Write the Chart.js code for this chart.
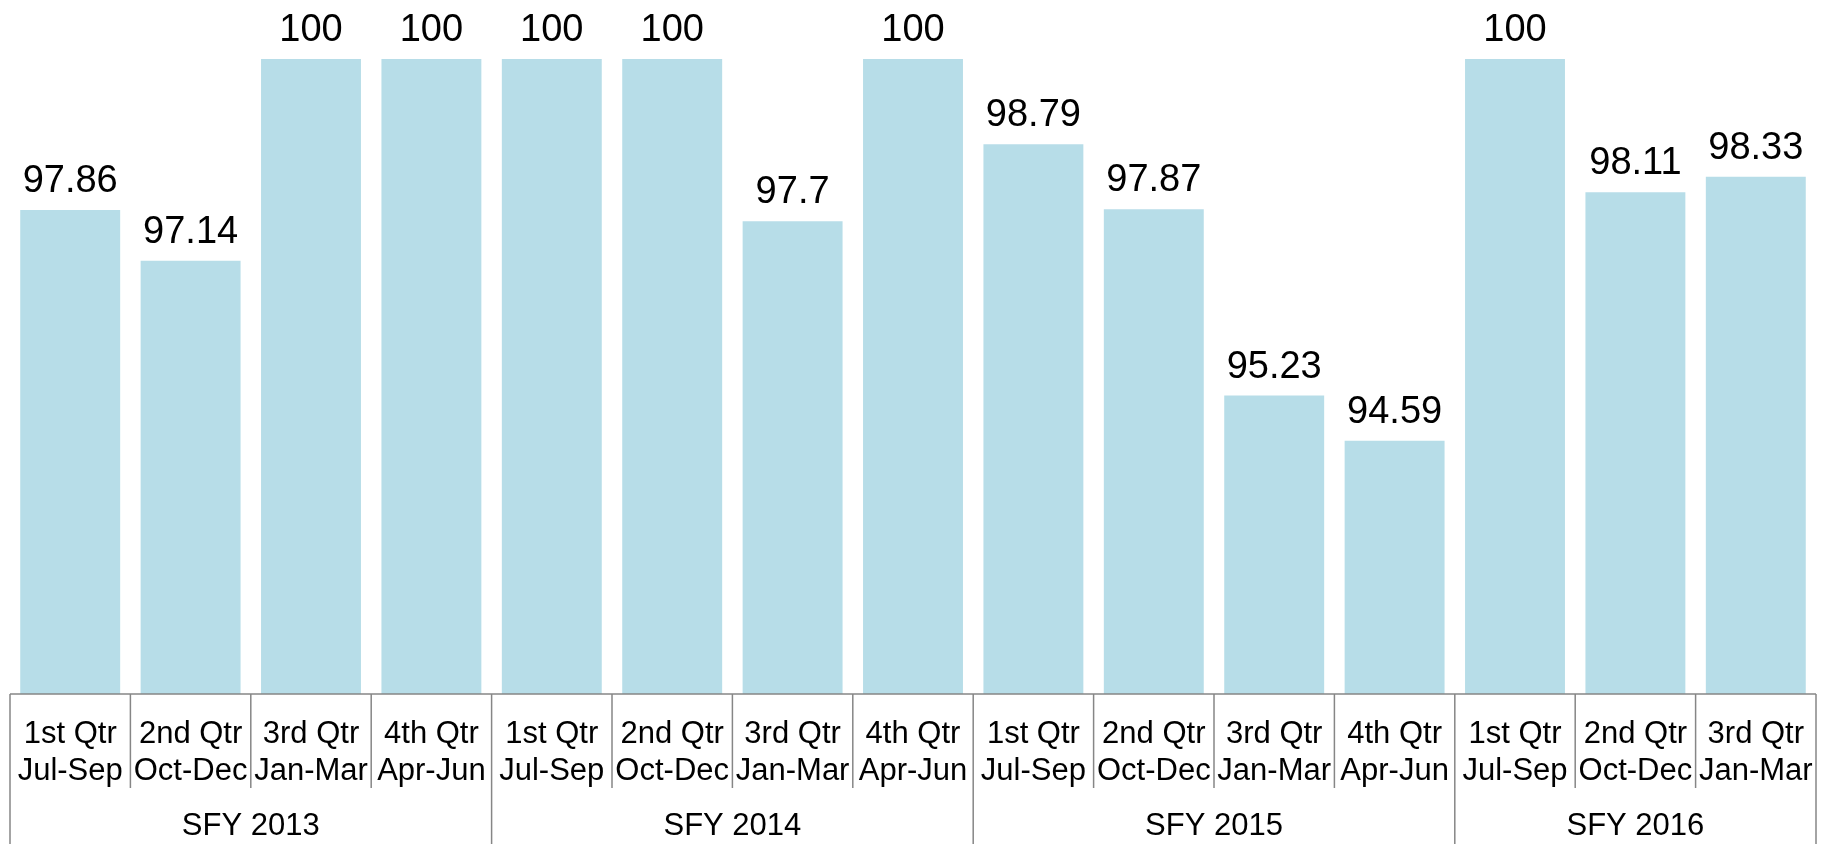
<!DOCTYPE html>
<html>
<head>
<meta charset="utf-8">
<script src="https://cdn.jsdelivr.net/npm/chart.js@4.4.1/dist/chart.umd.min.js"></script>
<style>
html,body{margin:0;padding:0;background:#fff;}
#wrap{width:1833px;height:844px;position:relative;}
</style>
</head>
<body>
<div id="wrap"><canvas id="c" width="1833" height="844"></canvas></div>
<script>
const quarterLabels = ['1st Qtr','2nd Qtr','3rd Qtr','4th Qtr','1st Qtr','2nd Qtr','3rd Qtr','4th Qtr','1st Qtr','2nd Qtr','3rd Qtr','4th Qtr','1st Qtr','2nd Qtr','3rd Qtr'];
const monthLabels = ['Jul-Sep','Oct-Dec','Jan-Mar','Apr-Jun','Jul-Sep','Oct-Dec','Jan-Mar','Apr-Jun','Jul-Sep','Oct-Dec','Jan-Mar','Apr-Jun','Jul-Sep','Oct-Dec','Jan-Mar'];
const groupLabels = ['SFY 2013','SFY 2014','SFY 2015','SFY 2016'];
const groupSizes = [4,4,4,3];
const values = [97.86,97.14,100,100,100,100,97.7,100,98.79,97.87,95.23,94.59,100,98.11,98.33];

const FONT = '"Liberation Sans", Arial, sans-serif';

const axisPlugin = {
  id: 'axisPlugin',
  afterDraw(chart) {
    const ctx = chart.ctx;
    const x = chart.scales.x;
    const area = chart.chartArea;
    const y0 = area.bottom;
    const half = (x.getPixelForValue(1) - x.getPixelForValue(0)) / 2;
    const leftEdge = x.getPixelForValue(0) - half;
    const rightEdge = x.getPixelForValue(values.length - 1) + half;
    ctx.save();
    ctx.strokeStyle = '#868686';
    ctx.lineWidth = 1.5;
    ctx.beginPath();
    ctx.moveTo(leftEdge, y0); ctx.lineTo(rightEdge, y0);
    ctx.stroke();
    const groupStarts = new Set();
    let acc = 0;
    groupSizes.forEach(s => { groupStarts.add(acc); acc += s; });
    groupStarts.add(acc);
    for (let i = 0; i <= values.length; i++) {
      const px = x.getPixelForValue(i) - half;
      const bottom = groupStarts.has(i) ? chart.height : y0 + 94;
      ctx.beginPath();
      ctx.moveTo(px, y0); ctx.lineTo(px, bottom);
      ctx.stroke();
    }
    ctx.fillStyle = '#000';
    ctx.textAlign = 'center';
    ctx.textBaseline = 'middle';
    ctx.font = '31px ' + FONT;
    for (let i = 0; i < values.length; i++) {
      const px = x.getPixelForValue(i);
      ctx.fillText(quarterLabels[i], px, y0 + 40);
      ctx.fillText(monthLabels[i], px, y0 + 77);
    }
    acc = 0;
    groupSizes.forEach((s, g) => {
      const a = x.getPixelForValue(acc) - half;
      const b = x.getPixelForValue(acc + s - 1) + half;
      ctx.fillText(groupLabels[g], (a + b) / 2, y0 + 132);
      acc += s;
    });
    ctx.restore();
  }
};

const labelPlugin = {
  id: 'labelPlugin',
  afterDatasetsDraw(chart) {
    const ctx = chart.ctx;
    const meta = chart.getDatasetMeta(0);
    ctx.save();
    ctx.fillStyle = '#000';
    ctx.textAlign = 'center';
    ctx.textBaseline = 'alphabetic';
    ctx.font = '38px ' + FONT;
    meta.data.forEach((bar, i) => {
      ctx.fillText(String(values[i]), bar.x, bar.y - 18);
    });
    ctx.restore();
  }
};

new Chart(document.getElementById('c'), {
  type: 'bar',
  data: {
    labels: quarterLabels.map((q, i) => q + ' ' + monthLabels[i]),
    datasets: [{
      data: values,
      backgroundColor: '#b7dde8',
      borderWidth: 0,
      categoryPercentage: 1,
      barPercentage: 0.83
    }]
  },
  options: {
    responsive: false,
    animation: false,
    devicePixelRatio: 1,
    layout: { padding: { left: 10, right: 17, top: 59, bottom: 150 } },
    plugins: { legend: { display: false }, tooltip: { enabled: false } },
    scales: {
      x: { display: false },
      y: { display: false, min: 91, max: 100 }
    }
  },
  plugins: [axisPlugin, labelPlugin]
});
</script>
</body>
</html>
